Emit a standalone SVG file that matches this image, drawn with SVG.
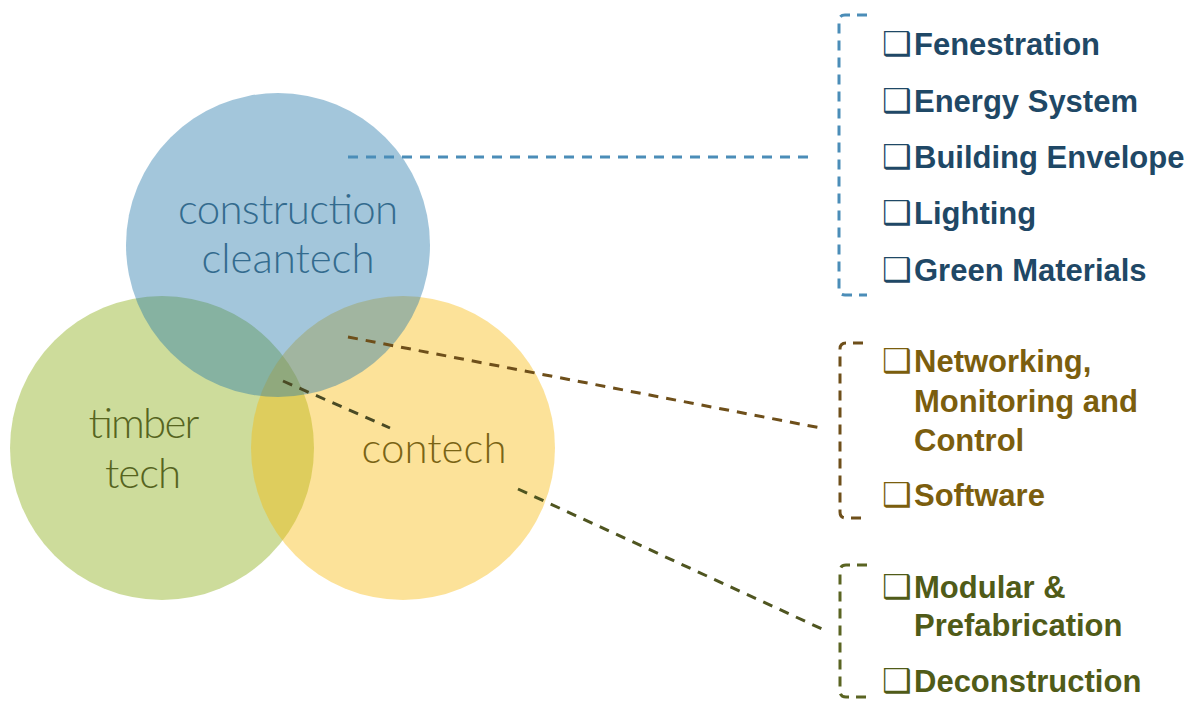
<svg xmlns="http://www.w3.org/2000/svg" width="1191" height="702" viewBox="0 0 1191 702">
<style>
.lbl{font-family:"Lato","Open Sans","Liberation Sans",sans-serif;font-weight:300;font-size:42px;text-anchor:middle}
.item{font-family:"Liberation Sans",Arial,sans-serif;font-weight:bold;font-size:31px}
.box{font-family:"DejaVu Sans",sans-serif;font-weight:bold;font-size:33px}
.dash{fill:none;stroke-width:3;stroke-dasharray:10 8}
.brk{fill:none;stroke-width:3;stroke-dasharray:10 7}
</style>
<rect width="1191" height="702" fill="#ffffff"/>
<g id="timber-tech">
<circle cx="162" cy="448" r="152" fill="#9bb937" fill-opacity="0.5"/>
</g>
<g id="contech">
<circle cx="403" cy="448" r="152" fill="#f7b600" fill-opacity="0.4"/>
</g>
<g id="construction-cleantech">
<circle cx="278" cy="245" r="152" fill="#2477a9" fill-opacity="0.42"/>
</g>
<g id="circle-labels">
<text class="lbl" x="288" y="224" fill="#336b8e" textLength="220" lengthAdjust="spacing">construction</text>
<text class="lbl" x="288" y="273" fill="#336b8e" textLength="173" lengthAdjust="spacing">cleantech</text>
<text class="lbl" x="143" y="438" fill="#56641f" textLength="111" lengthAdjust="spacing">timber</text>
<text class="lbl" x="143" y="488" fill="#56641f" textLength="76" lengthAdjust="spacing">tech</text>
<text class="lbl" x="434" y="463" fill="#7a6415" textLength="145" lengthAdjust="spacing">contech</text>
</g>
<g id="connectors">
<path class="dash" d="M348,157 H816" stroke="#4b8db8" stroke-width="2.5"/>
<path class="dash" d="M348,337 L821,428" stroke="#6e4f1a"/>
<path class="dash" d="M283,381 L390,428" stroke="#4a4a24"/>
<path class="dash" d="M518,489 L822,629" stroke="#4f5520"/>
</g>
<g id="cleantech-list">
<path class="brk" d="M867,15 H845 Q839,15 839,21 V289 Q839,295 845,295 H867" stroke="#4b8db8"/>
<g fill="#1f4866">
<text class="item" y="55"><tspan class="box" x="882">❑</tspan><tspan x="914">Fenestration</tspan></text>
<text class="item" y="112"><tspan class="box" x="882">❑</tspan><tspan x="914">Energy System</tspan></text>
<text class="item" y="168"><tspan class="box" x="882">❑</tspan><tspan x="914">Building Envelope</tspan></text>
<text class="item" y="224"><tspan class="box" x="882">❑</tspan><tspan x="914">Lighting</tspan></text>
<text class="item" y="281"><tspan class="box" x="882">❑</tspan><tspan x="914">Green Materials</tspan></text>
</g>
</g>
<g id="contech-list">
<path class="brk" d="M863,343 H846 Q840,343 840,349 V512 Q840,518 846,518 H863" stroke="#6e4f1a"/>
<g fill="#7b5e0e">
<text class="item" y="372"><tspan class="box" x="882">❑</tspan><tspan x="914">Networking,</tspan></text>
<text class="item" x="914" y="412">Monitoring and</text>
<text class="item" x="914" y="451">Control</text>
<text class="item" y="506"><tspan class="box" x="882">❑</tspan><tspan x="914">Software</tspan></text>
</g>
</g>
<g id="timber-list">
<path class="brk" d="M867,565 H846 Q840,565 840,571 V691 Q840,697 846,697 H867" stroke="#5a6422"/>
<g fill="#505b18">
<text class="item" y="598"><tspan class="box" x="882">❑</tspan><tspan x="914">Modular &amp;</tspan></text>
<text class="item" x="914" y="636">Prefabrication</text>
<text class="item" y="692"><tspan class="box" x="882">❑</tspan><tspan x="914">Deconstruction</tspan></text>
</g>
</g>
</svg>
